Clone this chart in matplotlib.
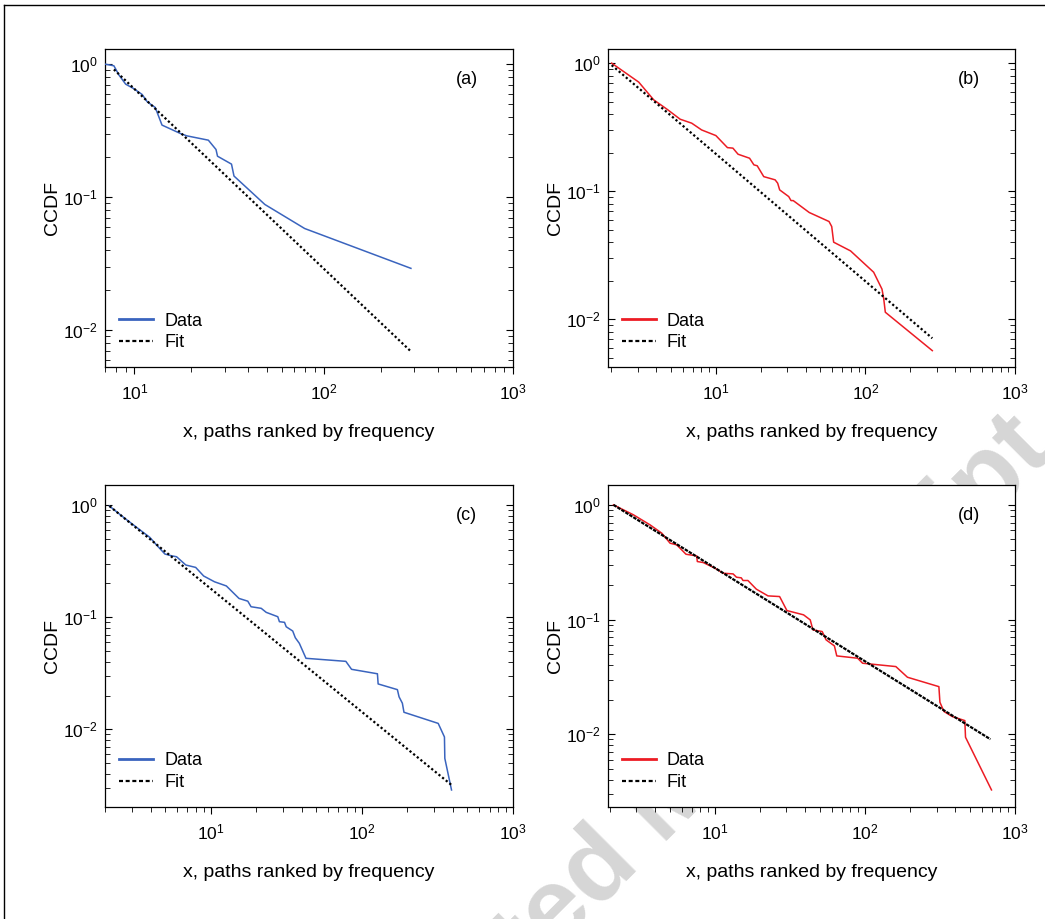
import matplotlib
matplotlib.use('Agg')
import matplotlib.pyplot as plt
from matplotlib.lines import Line2D
from matplotlib.ticker import LogLocator, NullFormatter

plt.rcParams['font.family'] = ['Liberation Sans', 'DejaVu Sans']
plt.rcParams['mathtext.fontset'] = 'custom'
plt.rcParams['mathtext.rm'] = 'Liberation Sans'
plt.rcParams['mathtext.it'] = 'Liberation Sans:italic'
plt.rcParams['mathtext.bf'] = 'Liberation Sans:bold'

# --- данные ---
a_x = [7.0, 7.8, 8.3, 9.0, 9.9, 11.0, 11.7, 12.6, 12.9, 14.0, 17.5, 18.9, 24.6,
       27.0, 27.5, 32.6, 33.6, 48.9, 79.4, 289]
a_y = [1.0, 0.972, 0.827, 0.707, 0.656, 0.591, 0.521, 0.483, 0.472, 0.348, 0.301,
       0.289, 0.268, 0.228, 0.203, 0.177, 0.144, 0.088, 0.058, 0.0291]
a_fit_x = [7.8, 289]
a_fit_y = [0.912, 0.0069]

b_x = [2.01, 3.05, 3.84, 4.71, 5.77, 6.89, 8.03, 10.0, 11.95, 13.0, 14.07, 16.8,
       17.96, 18.9, 20.9, 24.9, 25.9, 26.7, 30.7, 31.8, 32.9, 42.1, 57.1, 59.5,
       61.3, 79.5, 113.5, 129, 132.4, 135.8, 280]
b_y = [1.0, 0.711, 0.517, 0.437, 0.365, 0.340, 0.301, 0.272, 0.219, 0.217, 0.1945,
       0.181, 0.1606, 0.158, 0.130, 0.1227, 0.1155, 0.1024, 0.0908, 0.0845, 0.0845,
       0.0682, 0.058, 0.053, 0.040, 0.0342, 0.0233, 0.0172, 0.0146, 0.01135, 0.00569]
b_fit_x = [2.01, 280]
b_fit_y = [0.965, 0.00711]

c_x = [2.14, 2.71, 3.24, 3.96, 4.39, 4.98, 5.51, 5.95, 6.85, 7.96, 8.99, 10.6,
       12.7, 15.4, 17.6, 18.5, 21.6, 23.3, 27.8, 28.5, 30.8, 31.6, 34.9, 36.3,
       38.6, 42.7, 78.4, 85.5, 126.8, 128.2, 171.9, 176.3, 185.4, 190, 320, 352,
       354, 392]
c_y = [0.98, 0.760, 0.632, 0.515, 0.440, 0.366, 0.353, 0.346, 0.292, 0.278, 0.233,
       0.207, 0.190, 0.147, 0.139, 0.124, 0.120, 0.1105, 0.101, 0.0912, 0.090,
       0.0822, 0.0753, 0.0656, 0.0585, 0.0430, 0.0404, 0.0343, 0.0313, 0.0254,
       0.0226, 0.0195, 0.0171, 0.0142, 0.0113, 0.00855, 0.00551, 0.00288]
c_fit_x = [2.14, 392]
c_fit_y = [0.98, 0.00319]

d_x = [2.11, 2.87, 3.70, 4.43, 5.03, 5.57, 6.42, 7.56, 7.64, 8.37, 10.0, 11.36,
       13.23, 13.93, 15.0, 15.4, 16.6, 18.9, 22.6, 27.0, 30.2, 39.0, 43.2, 45.0,
       51.9, 55.1, 62.6, 64.9, 89.4, 96.5, 160.7, 192, 311, 316, 336, 382, 463,
       468, 697]
d_y = [1.0, 0.818, 0.669, 0.566, 0.463, 0.448, 0.371, 0.359, 0.3205, 0.314, 0.2805,
       0.2535, 0.250, 0.234, 0.231, 0.219, 0.219, 0.184, 0.1608, 0.1587, 0.1198,
       0.1099, 0.0993, 0.0813, 0.0786, 0.0665, 0.0589, 0.0482, 0.0460, 0.0416,
       0.0389, 0.0314, 0.0260, 0.0190, 0.0158, 0.01426, 0.01315, 0.00941, 0.00327]
d_fit_x = [2.11, 686]
d_fit_y = [1.0, 0.00904]

BLUE = '#3a64be'
RED = '#ec1c24'

W, H = 1045, 919
fig = plt.figure(figsize=(W / 100, H / 100), dpi=100)


def px_axes(x0, y0, x1, y1):
    # пиксельный прямоугольник -> оси
    return fig.add_axes([x0 / W, 1 - y1 / H, (x1 - x0) / W, (y1 - y0) / H])


panels = [
    # (box, x, y, fit_x, fit_y, color, letter, xlim, ylim, fit dashes)
    ((105, 49, 513, 367), a_x, a_y, a_fit_x, a_fit_y, BLUE, '(a)', (7.0, 1000), (0.00527, 1.30), (1, 1.1)),
    ((608, 49, 1015, 367), b_x, b_y, b_fit_x, b_fit_y, RED, '(b)', (1.9, 1000), (0.00424, 1.29), (1, 1.1)),
    ((105, 485, 513, 807), c_x, c_y, c_fit_x, c_fit_y, BLUE, '(c)', (2.0, 1000), (0.00203, 1.51), (1, 1.1)),
    ((608, 485, 1015, 807), d_x, d_y, d_fit_x, d_fit_y, RED, '(d)', (1.94, 1000), (0.00232, 1.49), (1.6, 0.5)),
]

# водяной знак под осями
fig.text(664 / W, 1 - 806 / H, 'Accepted Manuscript', fontsize=75, fontweight='bold',
         color='#d6d6d6', rotation=45, ha='center', va='center',
         rotation_mode='anchor', zorder=-5)

# рамка страницы
fig.add_artist(Line2D([4 / W, 1.0], [1 - 5 / H, 1 - 5 / H], transform=fig.transFigure,
                      color='black', lw=1.0))
fig.add_artist(Line2D([4 / W, 4 / W], [0.0, 1 - 5 / H], transform=fig.transFigure,
                      color='black', lw=1.0))

for box, xs, ys, fx, fy, col, letter, xlim, ylim, dash in panels:
    ax = px_axes(*box)
    ax.set_facecolor('white')
    ax.plot(xs, ys, color=col, lw=1.1, zorder=3)
    ax.plot(fx, fy, color='black', lw=1.6, linestyle=(0, dash), zorder=4)
    ax.set_xscale('log')
    ax.set_yscale('log')
    ax.set_xlim(*xlim)
    ax.set_ylim(*ylim)

    ax.xaxis.set_major_locator(LogLocator(base=10, numticks=10))
    ax.xaxis.set_minor_locator(LogLocator(base=10, subs=range(2, 10), numticks=20))
    ax.yaxis.set_major_locator(LogLocator(base=10, numticks=10))
    ax.yaxis.set_minor_locator(LogLocator(base=10, subs=range(2, 10), numticks=20))
    ax.xaxis.set_minor_formatter(NullFormatter())
    ax.yaxis.set_minor_formatter(NullFormatter())

    ax.tick_params(axis='x', which='both', direction='out', top=False, labelsize=12.5, pad=6)
    ax.tick_params(axis='x', which='major', length=5, width=0.8)
    ax.tick_params(axis='x', which='minor', length=3.5, width=0.6)
    ax.tick_params(axis='y', which='both', direction='in', left=True, right=True,
                   labelsize=12.5, pad=5)
    ax.tick_params(axis='y', which='major', length=5, width=0.8)
    ax.tick_params(axis='y', which='minor', length=3.5, width=0.6)
    for s in ax.spines.values():
        s.set_linewidth(0.9)

    ax.set_xlabel('x, paths ranked by frequency', fontsize=14, labelpad=16)
    ax.set_ylabel('CCDF', fontsize=14, labelpad=2)
    ax.text(0.887, 0.905, letter, transform=ax.transAxes, fontsize=13,
            ha='center', va='center')

    handles = [Line2D([], [], color=col, lw=2.0),
               Line2D([], [], color='black', lw=1.6, linestyle=(0, (1.8, 1.2)))]
    ax.legend(handles, ['Data', 'Fit'], loc='lower left', frameon=False, fontsize=13,
              handlelength=1.9, handletextpad=0.6, labelspacing=0.25,
              borderaxespad=0.0, borderpad=0.0, bbox_to_anchor=(0.034, 0.05))

fig.savefig('out.png', dpi=100)
